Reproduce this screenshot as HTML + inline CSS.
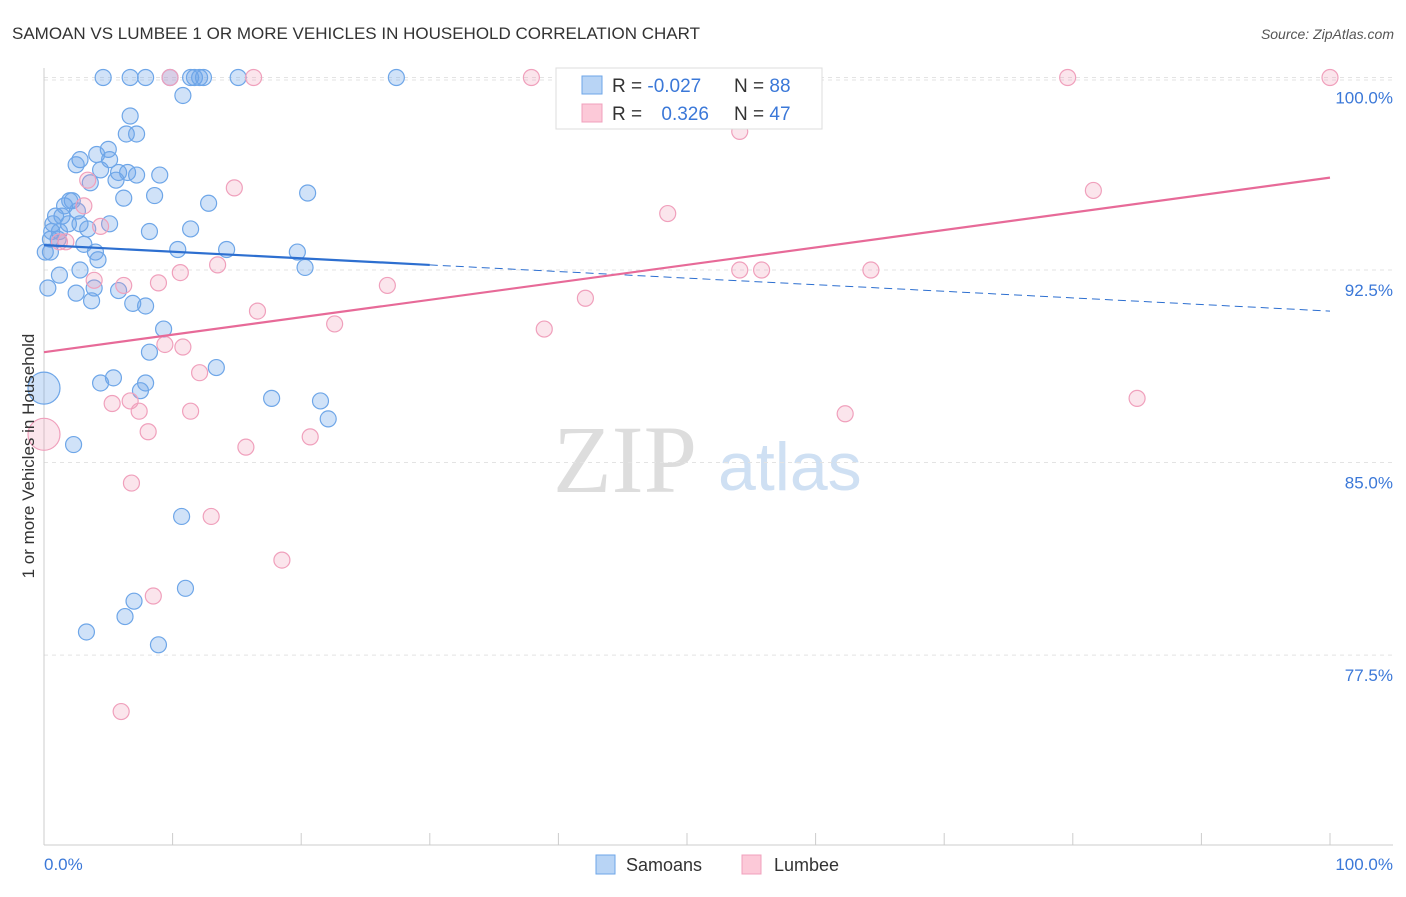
<!DOCTYPE html>
<html><head><meta charset="utf-8"><style>
body{margin:0;background:#fff;font-family:"Liberation Sans",sans-serif}
</style></head><body>
<svg id="chart" width="1406" height="892" xmlns="http://www.w3.org/2000/svg" font-family="Liberation Sans, sans-serif">
<text x="12" y="39" font-size="17" fill="#333">SAMOAN VS LUMBEE 1 OR MORE VEHICLES IN HOUSEHOLD CORRELATION CHART</text>
<text x="1394" y="39" font-size="14" fill="#555" text-anchor="end" font-style="italic">Source: ZipAtlas.com</text>
<text x="553" y="492" font-size="96" fill="#ddd" font-family="Liberation Serif, serif">ZIP</text>
<text x="718" y="490" font-size="68" fill="#cfe0f3">atlas</text>
<g id="grid"></g>
<g id="axes"></g>
<g id="marks"></g>
<text transform="translate(34,456) rotate(-90)" font-size="17" fill="#333" text-anchor="middle">1 or more Vehicles in Household</text>
<g>
<rect x="556" y="68" width="266" height="61" fill="#fff" stroke="#ddd"/>
<rect x="582" y="76" width="20" height="18" fill="#b8d4f5" stroke="#6ea6e8"/>
<rect x="582" y="104" width="20" height="18" fill="#fcc9d8" stroke="#f0a0bc"/>
<text x="612" y="92" font-size="19" fill="#333">R = <tspan fill="#3b78d8">-0.027</tspan></text>
<text x="734" y="92" font-size="19" fill="#333">N = <tspan fill="#3b78d8">88</tspan></text>
<text x="612" y="120" font-size="19" fill="#333">R = <tspan fill="#3b78d8" dx="14">0.326</tspan></text>
<text x="734" y="120" font-size="19" fill="#333">N = <tspan fill="#3b78d8">47</tspan></text>
</g>
<g>
<rect x="596" y="855" width="19" height="19" fill="#b8d4f5" stroke="#6ea6e8"/>
<text x="626" y="871" font-size="18" fill="#333">Samoans</text>
<rect x="742" y="855" width="19" height="19" fill="#fcc9d8" stroke="#f0a0bc"/>
<text x="774" y="871" font-size="18" fill="#333">Lumbee</text>
</g>
</svg>
<script>
const yTicks=[100,92.5,85,77.5];
const yTickLabels=["100.0%","92.5%","85.0%","77.5%"];
const samoanX=[4.6,6.7,7.9,9.8,11.4,11.7,12.4,15.1,27.4,10.8,6.7,6.4,7.2,5.0,4.1,2.8,2.5,5.1,4.4,5.8,6.5,7.2,9.0,3.6,5.6,2.2,1.6,1.4,2.0,2.6,0.9,0.7,1.9,1.2,0.5,1.1,2.8,5.1,6.2,8.6,12.8,20.5,8.2,11.4,10.4,14.2,19.7,20.3,0.5,3.1,4.0,4.2,2.8,1.2,0.3,2.5,3.7,3.9,5.8,6.9,7.9,9.3,8.2,13.4,5.4,4.4,7.9,7.5,17.7,21.5,22.1,2.3,0,10.7,11.0,7.0,6.3,3.3,8.9,12.1,0.6,3.4,0.1];
const samoanY=[100,100,100,100,100,100,100,100,100,99.3,98.5,97.8,97.8,97.2,97.0,96.8,96.6,96.8,96.4,96.3,96.3,96.2,96.2,95.9,96.0,95.2,95.0,94.6,95.2,94.8,94.6,94.3,94.3,94.0,93.7,93.7,94.3,94.3,95.3,95.4,95.1,95.5,94.0,94.1,93.3,93.3,93.2,92.6,93.2,93.5,93.2,92.9,92.5,92.3,91.8,91.6,91.3,91.8,91.7,91.2,91.1,90.2,89.3,88.7,88.3,88.1,88.1,87.8,87.5,87.4,86.7,85.7,87.9,82.9,80.1,79.6,79.0,78.4,77.9,100,94.0,94.1,93.2];
const lumbeeX=[9.8,16.3,37.9,79.6,100,54.1,3.4,3.1,14.8,48.5,81.6,4.4,1.2,1.7,13.5,10.6,8.9,6.2,26.7,42.1,54.1,55.8,64.3,3.9,16.6,22.6,38.9,9.4,10.8,12.1,6.7,5.3,7.4,11.4,8.1,15.7,20.7,62.3,85.0,0,6.8,13.0,18.5,8.5,6.0];
const lumbeeY=[100,100,100,100,100,97.9,96.0,95.0,95.7,94.7,95.6,94.2,93.6,93.6,92.7,92.4,92.0,91.9,91.9,91.4,92.5,92.5,92.5,92.1,90.9,90.4,90.2,89.6,89.5,88.5,87.4,87.3,87.0,87.0,86.2,85.6,86.0,86.9,87.5,86.1,84.2,82.9,81.2,79.8,75.3];
const samoanTrend=[93.47,90.9]; // value at x=0 and x=100
const lumbeeTrend=[89.3,96.1];
const NS="http://www.w3.org/2000/svg";
const X=v=>44+v*12.86, Y=v=>77.5+(100-v)*25.67;
function mk(p,t,a){const e=document.createElementNS(NS,t);for(const k in a)e.setAttribute(k,a[k]);p.appendChild(e);return e;}
const grid=document.getElementById('grid'),axes=document.getElementById('axes'),marks=document.getElementById('marks');
let g0=mk(grid,'line',{x1:44,x2:1393,y1:80,y2:80,stroke:'#e3e3e3','stroke-dasharray':'4,4'});


yTicks.forEach((t,i)=>{
 const l=mk(grid,'line',{x1:44,x2:1393,y1:Y(t),y2:Y(t),stroke:'#e3e3e3','stroke-dasharray':'4,4'});
 
 
 const tx=mk(axes,'text',{x:1393,y:Y(t)+26,'font-size':17,fill:'#3b78d8','text-anchor':'end'});
 tx.textContent=yTickLabels[i];
 
 
});
let ax=mk(axes,'line',{x1:44,x2:1393,y1:845,y2:845,stroke:'#ccc'});


let ay=mk(axes,'line',{x1:44,x2:44,y1:68,y2:845,stroke:'#ccc'});


for(let i=0;i<=10;i++){const t=mk(axes,'line',{x1:X(i*10),x2:X(i*10),y1:833,y2:845,stroke:'#ccc'});
 
 }
let xl=mk(axes,'text',{x:44,y:870,'font-size':17,fill:'#3b78d8'});xl.textContent='0.0%';


let xr=mk(axes,'text',{x:1393,y:870,'font-size':17,fill:'#3b78d8','text-anchor':'end'});xr.textContent='100.0%';


function pts(xs,ys,fill,stroke,name){xs.forEach((x,i)=>{
 const big=(x===0&&(ys[i]===87.9||ys[i]===86.1));
 const c=mk(marks,'circle',{cx:X(x),cy:Y(ys[i]),r:big?16:8,fill:fill,stroke:stroke,'stroke-width':1.2});
 
 });}
pts(samoanX,samoanY,'rgba(110,166,232,0.32)','#6ea6e8','samoan-point');
pts(lumbeeX,lumbeeY,'rgba(240,150,180,0.25)','#f0a0bc','lumbee-point');
const sAt=x=>samoanTrend[0]+(samoanTrend[1]-samoanTrend[0])*x/100;
let s1=mk(marks,'line',{x1:X(0),y1:Y(sAt(0)),x2:X(30),y2:Y(sAt(30)),stroke:'#2d6fd0','stroke-width':2.2});


let s2=mk(marks,'line',{x1:X(30),y1:Y(sAt(30)),x2:X(100),y2:Y(sAt(100)),stroke:'#2d6fd0','stroke-width':1,'stroke-dasharray':'8,5'});


let p1=mk(marks,'line',{x1:X(0),y1:Y(lumbeeTrend[0]),x2:X(100),y2:Y(lumbeeTrend[1]),stroke:'#e76a98','stroke-width':2.2});


</script>
</body></html>
